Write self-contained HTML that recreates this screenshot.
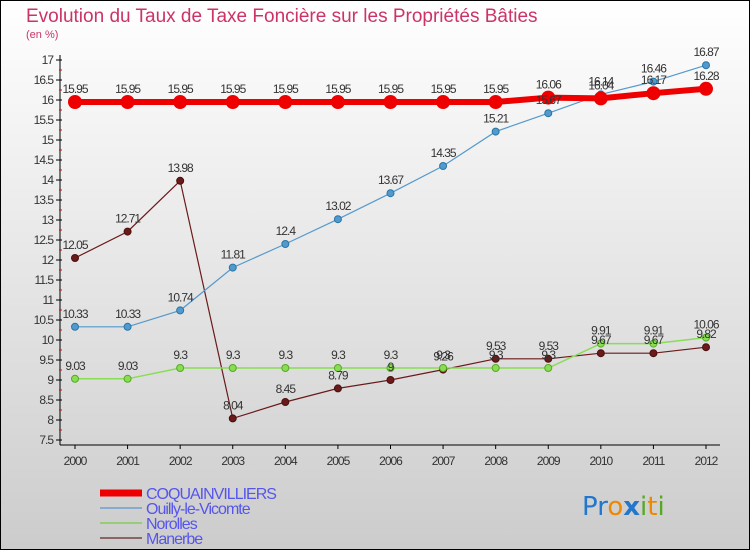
<!DOCTYPE html>
<html><head><meta charset="utf-8"><style>
html,body{margin:0;padding:0;}
body{width:750px;height:550px;overflow:hidden;font-family:"Liberation Sans",sans-serif;}
</style></head><body>
<svg id="chart" width="750" height="550" xmlns="http://www.w3.org/2000/svg">
<defs><linearGradient id="bg" x1="0" y1="0" x2="0" y2="1"><stop offset="0" stop-color="#ffffff"/><stop offset="1" stop-color="#cccccc"/></linearGradient></defs>
<rect x="0.5" y="0.5" width="749" height="549" fill="url(#bg)" stroke="#000"/>
<text x="26" y="22" font-size="19" fill="#cc3366">Evolution du Taux de Taxe Foncière sur les Propriétés Bâties</text>
<text x="26" y="38" font-size="11" fill="#cc3366">(en %)</text>
<g id="axes"></g><g id="series"></g><g id="labels"></g>
<g id="legend"></g>
<text x="582" y="515" font-size="26" font-family="DejaVu Sans, sans-serif"><tspan fill="#2277cc">Pr</tspan><tspan fill="#ee8800">o</tspan><tspan fill="#2277cc" font-weight="bold">x</tspan><tspan fill="#55aa22">i</tspan><tspan fill="#ee8800">t</tspan><tspan fill="#55aa22">i</tspan></text>
</svg>
<script>
const years=[2000,2001,2002,2003,2004,2005,2006,2007,2008,2009,2010,2011,2012];
const yTicks=[7.5,8,8.5,9,9.5,10,10.5,11,11.5,12,12.5,13,13.5,14,14.5,15,15.5,16,16.5,17];
const coq=[15.95,15.95,15.95,15.95,15.95,15.95,15.95,15.95,15.95,16.06,16.04,16.17,16.28];
const ouilly=[10.33,10.33,10.74,11.81,12.4,13.02,13.67,14.35,15.21,15.67,16.14,16.46,16.87];
const norolles=[9.03,9.03,9.3,9.3,9.3,9.3,9.3,9.3,9.3,9.3,9.91,9.91,10.06];
const manerbe=[12.05,12.71,13.98,8.04,8.45,8.79,9,9.26,9.53,9.53,9.67,9.67,9.82];
const seriesNames=["COQUAINVILLIERS","Ouilly-le-Vicomte","Norolles","Manerbe"];
const NS="http://www.w3.org/2000/svg";
function xs(i){return 75+i*(706-75)/(years.length-1);}
function ys(v){return 60+(17-v)*40;}
function mk(tag,attrs,parent){const e=document.createElementNS(NS,tag);for(const k in attrs)e.setAttribute(k,attrs[k]);parent.appendChild(e);return e;}
const axes=document.getElementById('axes');
let ax=mk('line',{x1:60,y1:55,x2:60,y2:445,stroke:'#000'},axes);


let bx=mk('line',{x1:60,y1:445,x2:720,y2:445,stroke:'#000'},axes);


yTicks.forEach((v,k)=>{const y=ys(v);
 mk('line',{x1:56,y1:y,x2:62,y2:y,stroke:'#000'},axes);
 if(k>0) mk('line',{x1:59,y1:y+10,x2:62,y2:y+10,stroke:'#e00'},axes);
 const t=mk('text',{x:53,y:y+4,'font-size':12,'text-anchor':'end',fill:'#333','letter-spacing':'-1'},axes);t.textContent=v;
 
 
});
years.forEach((yr,i)=>{const x=xs(i);
 mk('line',{x1:x,y1:445,x2:x,y2:449,stroke:'#000'},axes);
 const t=mk('text',{x:x,y:465,'font-size':12,'text-anchor':'middle',fill:'#333','letter-spacing':'-1'},axes);t.textContent=yr;
 
 
});
const sg=document.getElementById('series'),lg=document.getElementById('labels');
function draw(data,color,lw,r,name,stroke){
 const g=mk('g',{},sg);
 
 
 mk('polyline',{points:data.map((v,i)=>xs(i)+','+ys(v)).join(' '),fill:'none',stroke:color,'stroke-width':lw},g);
 data.forEach((v,i)=>{const c=mk('circle',{cx:xs(i),cy:ys(v),r:r,fill:color,stroke:stroke,'stroke-width':1},g);
  
  
  const t=mk('text',{x:xs(i),y:ys(v)-9,'font-size':12,'text-anchor':'middle',fill:'#333','letter-spacing':'-1'},lg);t.textContent=v;
  
  
 });
}
draw(manerbe,'#6b1a1a',1.2,3.5,'manerbe','#4a0f0f');
draw(norolles,'#88dd55',1.5,3.5,'norolles','#55aa22');
draw(ouilly,'#5599cc',1.2,3.5,'ouilly','#2277aa');
draw(coq,'#ee0000',6,6.5,'coquainvilliers','#ee0000');
const leg=document.getElementById('legend');
const lc=['#ee0000','#88aacc','#99cc77','#886666'],lw=[7,2,2,2];
seriesNames.forEach((n,i)=>{const y=493+i*15;
 const g=mk('g',{},leg);
 
 
 mk('line',{x1:100,y1:y,x2:142,y2:y,stroke:lc[i],'stroke-width':lw[i]},g);
 const t=mk('text',{x:146,y:y+6,'font-size':16,fill:'#5555ee','letter-spacing':'-1'},g);t.textContent=n;
});
</script>
</body></html>
